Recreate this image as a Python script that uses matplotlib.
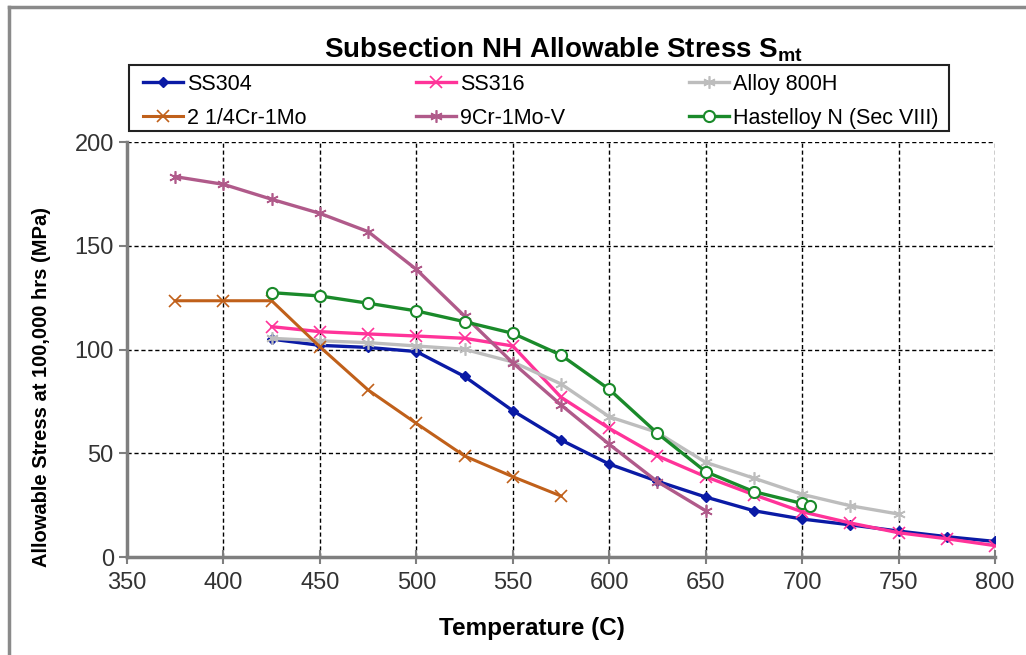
import matplotlib.pyplot as plt
from matplotlib.lines import Line2D
from matplotlib.patches import Rectangle

plt.rcParams['font.family'] = ['Liberation Sans', 'DejaVu Sans']

# temperaturas (C) e tensoes (MPa)
t_ss304 = [425, 450, 475, 500, 525, 550, 575, 600, 625, 650, 675, 700, 725, 750, 775, 800]
s_ss304 = [105, 102, 101, 99, 87, 70.5, 56.4, 44.8, 36.5, 28.9, 22.3, 18.3, 15.5, 12.5, 9.8, 7.5]

t_ss316 = [425, 450, 475, 500, 525, 550, 575, 600, 625, 650, 675, 700, 725, 750, 775, 800]
s_ss316 = [111, 108.6, 107.5, 106.5, 105.4, 101.7, 77, 62, 48.7, 38.7, 30, 21.8, 16.4, 11.7, 8.8, 5.5]

t_800h = [425, 450, 475, 500, 525, 550, 575, 600, 625, 650, 675, 700, 725, 750]
s_800h = [105.4, 104.2, 103.3, 101.7, 100.1, 94, 83.4, 67.6, 60, 45.6, 38, 30.2, 24.7, 20.7]

t_cr2 = [375, 400, 425, 450, 475, 500, 525, 550, 575]
s_cr2 = [123.5, 123.5, 123.5, 101.3, 80.5, 64.4, 48.7, 38.7, 29.4]

t_cr9 = [375, 400, 425, 450, 475, 500, 525, 550, 575, 600, 625, 650]
s_cr9 = [183.3, 179.6, 172.4, 165.6, 156.8, 138.6, 116.1, 93.6, 73.3, 54.3, 36.3, 22.3]

t_hast = [425, 450, 475, 500, 525, 550, 575, 600, 625, 650, 675, 700, 704]
s_hast = [127.4, 125.8, 122.3, 118.6, 113.4, 107.8, 97.3, 80.8, 59.6, 41.1, 31.5, 25.8, 24.7]

fig = plt.figure(figsize=(10.26, 6.55), dpi=100)
ax = fig.add_axes([0.1238, 0.1496, 0.9698 - 0.1238, 0.7832 - 0.1496])

# borda cinza do grafico (so esquerda e topo aparecem)
fig.add_artist(Line2D([0.009, 0.009], [0, 0.99], transform=fig.transFigure, color='#8a8a8a', lw=2.5))
fig.add_artist(Line2D([0.009, 1.0], [0.99, 0.99], transform=fig.transFigure, color='#8a8a8a', lw=2.5))

star = (6, 2, 0)
h1, = ax.plot(t_ss304, s_ss304, color='#0a1aa5', lw=2.4, marker='D', ms=5, label='SS304')
h2, = ax.plot(t_ss316, s_ss316, color='#ff3399', lw=2.4, marker='x', ms=8, mew=1.2, label='SS316')
h3, = ax.plot(t_800h, s_800h, color='#bdbdbd', lw=2.4, marker=star, ms=9, mew=1.2, label='Alloy 800H')
h4, = ax.plot(t_cr2, s_cr2, color='#c0601a', lw=2.2, marker='x', ms=8, mew=1.2, label='2 1/4Cr-1Mo')
h5, = ax.plot(t_cr9, s_cr9, color='#b05a8a', lw=2.4, marker=star, ms=9, mew=1.2, label='9Cr-1Mo-V')
h6, = ax.plot(t_hast, s_hast, color='#1a8a2a', lw=2.4, marker='o', ms=8, mfc='white', mew=1.5,
              label='Hastelloy N (Sec VIII)')

ax.set_xlim(350, 800)
ax.set_ylim(0, 200)
ax.set_xticks(range(350, 801, 50))
ax.set_yticks(range(0, 201, 50))
ax.grid(True, color='black', linestyle=(0, (3, 2)), lw=1)
ax.set_axisbelow(True)
for s in ['top', 'right']:
    ax.spines[s].set_visible(False)
for s in ['left', 'bottom']:
    ax.spines[s].set_color('#7f7f7f')
    ax.spines[s].set_linewidth(2.5)
ax.tick_params(labelsize=17, colors='#7f7f7f', labelcolor='#333333', width=1.5, length=6)
ax.tick_params(axis='x', direction='inout', length=10, pad=6)

ax.set_xlabel('Temperature (C)', fontsize=17.5, fontweight='bold')
ax.xaxis.set_label_coords(0.467, -0.145)
ax.set_ylabel('Allowable Stress at 100,000 hrs (MPa)', fontsize=14.5, fontweight='bold')
ax.yaxis.set_label_coords(-0.088, 0.41)

fig.text(0.549, 0.924, r'Subsection NH Allowable Stress S$_{\mathregular{mt}}$', ha='center', va='center',
         fontsize=20, fontweight='bold')

# legenda estilo Excel: tres colunas de mesma largura dentro de uma moldura
fig.add_artist(Rectangle((129 / 1026, 1 - 131 / 655), 820 / 1026, 66 / 655, transform=fig.transFigure,
                         fill=False, edgecolor='#222222', lw=1.5))
cols = [[h1, h4], [h2, h5], [h3, h6]]
col_x = [143, 416, 689]
for hs, x in zip(cols, col_x):
    fig.legend(handles=hs, loc='upper left', bbox_to_anchor=(x / 1026, 1 - 74 / 655), frameon=False,
               fontsize=15.5, borderpad=0, borderaxespad=0, handlelength=1.86, handletextpad=0.2,
               labelspacing=0.6)

fig.savefig('out.png', dpi=100)
